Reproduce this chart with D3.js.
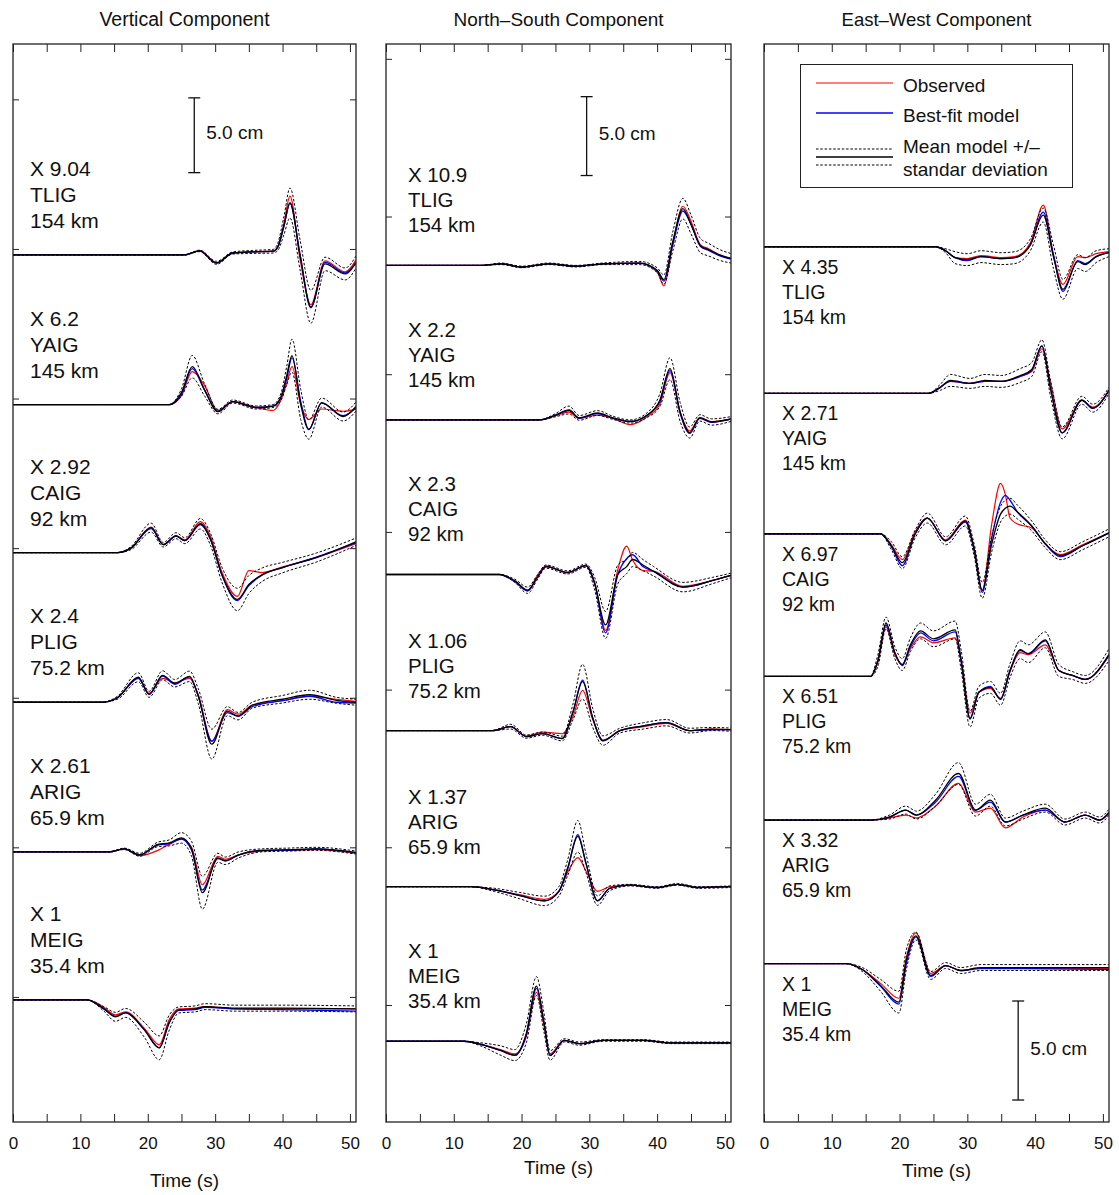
<!DOCTYPE html>
<html lang="en">
<head>
<meta charset="utf-8">
<script src="https://cdn.jsdelivr.net/npm/d3@7"></script>
<style>
body { margin: 0; background: #fff; font-family: "Liberation Sans", Arial, Helvetica, sans-serif; }
.frame { fill: none; stroke: #222; stroke-width: 1.3; }
.axis path { display: none; }
.axis line { stroke: #222; stroke-width: 1; }
.axis text { font-size: 17px; fill: #111; font-family: "Liberation Sans", Arial, sans-serif; }
.trace { fill: none; stroke-linejoin: round; }
.sd { stroke: #000; stroke-width: 1; stroke-dasharray: 2.5,1.8; }
.mean { stroke: #000; stroke-width: 1.3; }
.obs { stroke: #ff0000; stroke-width: 1.2; }
.fit { stroke: #0000ff; stroke-width: 1.3; }
.lbl { fill: #111; }
</style>
</head>
<body>
<svg id="chart" width="1119" height="1195"></svg>
<script>

// ---- data ----
var components = ["Vertical Component", "North\u2013South Component", "East\u2013West Component"];
var stations = ["TLIG", "YAIG", "CAIG", "PLIG", "ARIG", "MEIG"];
var distances = ["154 km", "145 km", "92 km", "75.2 km", "65.9 km", "35.4 km"];
var factorsV = ["9.04", "6.2", "2.92", "2.4", "2.61", "1"];
var factorsN = ["10.9", "2.2", "2.3", "1.06", "1.37", "1"];
var factorsE = ["4.35", "2.71", "6.97", "6.51", "3.32", "1"];

// baseline level of every trace, in cm of the plot
var offsetsV = [59.6, 49.6, 39.7, 29.7, 19.7, 9.8];
var offsetsN = [56.9, 47.1, 37.3, 27.4, 17.5, 7.7];
var offsetsE = [44.2, 36.8, 29.7, 22.5, 15.25, 8.0];

var xTicks = [0, 5, 10, 15, 20, 25, 30, 35, 40, 45, 50];
var yTicksV = [10, 20, 30, 40, 50, 60, 70];
var yTicksN = [10, 20, 30, 40, 50, 60, 70];
var legendItems = ["Observed", "Best-fit model", "Mean model +/\u2013", "standar deviation"];

// rows: [time s, mean, std dev, observed, best-fit]  (cm, up positive)
var vTLIG = [[0,0,0,0,0],[25.4,0,0,0,0],[27.7,0.27,0.05,0.27,0.27],[30.2,-0.53,0.1,-0.55,-0.53],[32.6,0.13,0.07,0.13,0.13],
  [35.5,0.2,0.1,0.22,0.2],[38.6,0.25,0.12,0.25,0.25],[39.3,0.55,0.25,0.5,0.55],[40.2,1.95,0.6,2.1,1.9],[41.1,3.47,1.0,3.93,3.47],
  [42.6,0,1.0,-0.3,0],[44.2,-3.47,1.1,-3.33,-3.53],[46.3,-0.6,0.45,-0.4,-0.5],[49.3,-1.27,0.4,-1.13,-1.2],[50.9,-0.47,0.4,-0.33,-0.55]];
var vYAIG = [[0,0,0,0,0],[23.2,0,0,0,0],[25.0,0.8,0.25,0.6,0.7],[26.6,2.53,0.75,2.2,2.4],[28.4,1.0,0.4,1.3,1.0],
  [30.4,-0.47,0.15,-0.4,-0.47],[32.6,0.2,0.1,0.2,0.2],[36.1,-0.2,0.1,-0.2,-0.2],[38.6,-0.1,0.1,-0.4,-0.1],[39.8,0.55,0.25,0.35,0.5],
  [40.6,1.9,0.6,1.4,1.7],[41.4,3.27,1.1,2.53,3.13],[42.7,0,1.0,0,0.2],[43.9,-1.67,0.65,-1.0,-1.67],[45.8,0.13,0.3,-0.3,0.1],
  [49.0,-0.8,0.3,-0.45,-0.75],[50.9,-0.13,0.3,-0.3,-0.2]];
var vCAIG = [[0,0,0,0,0],[15.5,0,0,0,0],[17.5,0.3,0.1,0.3,0.3],[20.5,1.67,0.3,1.7,1.6],[22.3,0.53,0.15,0.55,0.53],
  [24.2,1.13,0.2,1.1,1.1],[25.5,0.8,0.2,0.85,0.8],[27.8,1.93,0.35,2.07,1.87],[29.3,0.9,0.4,1.1,0.9],[31.0,-1.47,0.5,-1.3,-1.5],
  [33.3,-3.13,0.75,-2.93,-3.2],[35.0,-2.13,0.6,-1.2,-2.2],[37.0,-1.47,0.45,-1.33,-1.5],[40.0,-1.0,0.35,-0.95,-1.0],
  [45.0,-0.33,0.3,-0.33,-0.3],[50.9,0.73,0.25,0.6,0.65]];
var vPLIG = [[0,0,0,0,0],[13.2,0,0,0,0],[15.5,0.3,0.1,0.3,0.3],[18.6,1.67,0.3,1.6,1.6],[20.2,0.53,0.2,0.6,0.53],
  [22.2,1.8,0.3,1.6,1.75],[24.0,1.27,0.25,1.3,1.2],[26.2,1.73,0.35,1.6,1.7],[27.5,0.4,0.5,0.5,0.4],[29.5,-2.8,1.0,-2.6,-2.6],
  [31.8,-0.6,0.3,-0.5,-0.7],[33.4,-0.93,0.25,-0.8,-0.93],[35.5,-0.2,0.2,-0.2,-0.3],[40.0,0.2,0.25,0.1,0.1],
  [44.0,0.5,0.3,0.4,0.4],[48.0,0.13,0.2,0.2,0.0],[50.9,0.0,0.2,0.05,-0.05]];
var vARIG = [[0,0,0,0,0],[14.3,0,0,0,0],[16.5,0.2,0.05,0.2,0.2],[18.8,-0.2,0.1,-0.25,-0.2],[21.5,0.5,0.15,0.1,0.45],
  [23.2,0.6,0.2,0.5,0.55],[25.0,0.93,0.35,0.85,0.85],[26.5,0.2,0.5,0.3,0.1],[28.1,-2.73,1.1,-2.2,-2.55],[30.4,-0.4,0.3,-0.3,-0.45],
  [31.5,-0.6,0.25,-0.5,-0.6],[33.5,-0.2,0.2,-0.2,-0.2],[37,0.1,0.1,0.05,0.1],[41,0.15,0.1,0.1,0.1],[45,0.2,0.1,0.15,0.2],
  [50.9,-0.05,0.1,-0.1,-0.05]];
var vMEIG = [[0,0,0,0,0],[11.0,0,0,0,0],[13.5,-0.6,0.15,-0.5,-0.6],[15.2,-1.13,0.3,-1.0,-1.1],[16.7,-0.87,0.3,-0.8,-0.85],
  [19.5,-2.0,0.5,-1.9,-2.0],[21.7,-3.2,0.8,-3.0,-3.2],[23.2,-1.5,0.5,-1.3,-1.5],[24.6,-0.67,0.2,-0.6,-0.7],
  [27.0,-0.6,0.2,-0.55,-0.65],[28.5,-0.45,0.2,-0.45,-0.5],[33,-0.55,0.2,-0.6,-0.6],[40,-0.55,0.2,-0.6,-0.65],
  [50.9,-0.6,0.2,-0.6,-0.75]];

var nTLIG = [[0,0,0,0,0],[14,0,0,0,0],[17,0.1,0.05,0.1,0.1],[20,-0.1,0.05,-0.1,-0.1],[24,0.1,0.05,0.1,0.1],
  [28,-0.05,0.05,-0.05,-0.05],[32,0.1,0.05,0.1,0.1],[37.4,0.15,0.1,0.15,0.15],[40.0,-0.3,0.15,-0.4,-0.35],
  [41.0,-0.9,0.3,-1.3,-1.0],[42.3,1.5,0.6,1.3,1.3],[43.8,3.6,0.65,3.75,3.45],[45.0,2.6,0.6,2.8,2.6],[46.4,1.25,0.45,1.3,1.2],
  [47.6,1.0,0.4,1.05,0.95],[49.0,0.7,0.35,0.7,0.65],[50.9,0.45,0.3,0.45,0.4]];
var nYAIG = [[0,0,0,0,0],[22.6,0,0,0,0],[25.0,0.3,0.1,0.25,0.3],[27.0,0.63,0.25,0.5,0.6],[28.5,0.13,0.15,0.1,0.1],
  [31.2,0.44,0.15,0.3,0.4],[33.5,0.13,0.1,0.1,0.1],[36.0,-0.1,0.1,-0.3,-0.1],[38.5,0.3,0.15,0.2,0.3],[40.4,1.25,0.4,1.0,1.15],
  [41.9,3.25,0.7,3.0,3.13],[43.4,0.5,0.6,0.5,0.4],[44.8,-0.8,0.35,-0.7,-0.85],[46.3,0.13,0.2,0.15,0.1],
  [48.0,-0.13,0.2,-0.1,-0.15],[50.9,0.06,0.15,0.05,0.05]];
var nCAIG = [[0,0,0,0,0],[16.7,0,0,0,0],[19.0,-0.4,0.1,-0.4,-0.45],[20.9,-1.0,0.2,-1.0,-1.05],[22.3,-0.2,0.15,-0.1,-0.2],
  [23.6,0.5,0.1,0.55,0.5],[26.8,0.13,0.1,0.1,0.13],[29.5,0.56,0.1,0.56,0.56],[30.8,-0.6,0.4,-0.5,-0.6],
  [32.4,-3.2,0.85,-3.55,-3.7],[34.2,0,0.6,0.3,0],[35.5,0.5,0.45,1.8,1.0],[36.4,0.95,0.45,0.9,1.25],[37.9,0.6,0.35,0.25,0.5],
  [39.5,0.2,0.3,0.2,0.2],[43.8,-0.8,0.3,-0.75,-0.8],[48.2,-0.38,0.2,-0.38,-0.38],[50.9,-0.06,0.15,-0.06,-0.06]];
var nPLIG = [[0,0,0,0,0],[15.7,0,0,0,0],[18.4,0.25,0.15,0.25,0.25],[20.7,-0.38,0.1,-0.35,-0.38],[23.1,-0.19,0.1,-0.1,-0.19],
  [26.0,-0.5,0.15,-0.2,-0.5],[27.6,1.2,0.5,0.9,1.2],[29.0,3.1,1.1,2.55,3.2],[30.5,0.8,0.6,0.7,0.8],[32.0,-0.63,0.3,-0.6,-0.65],
  [34.5,0,0.15,0,0],[38.0,0.3,0.2,0.25,0.3],[41.4,0.5,0.2,0.45,0.5],[44.8,0,0.15,0,0],[48,0.1,0.1,0.1,0.05],
  [50.9,0.06,0.1,0.06,0.06]];
var nARIG = [[0,0,0,0,0],[12.5,0,0,0,0],[16.0,-0.2,0.1,-0.2,-0.2],[19.7,-0.56,0.2,-0.5,-0.55],[23.4,-0.9,0.3,-0.8,-0.9],
  [25.5,-0.3,0.3,-0.3,-0.3],[26.8,1.2,0.5,0.9,1.1],[28.3,3.2,1.0,1.85,3.3],[29.5,1.5,0.6,1.0,1.5],[31.2,-0.88,0.3,-0.3,-0.9],
  [33,-0.1,0.15,0,-0.1],[36,0.1,0.05,0.1,0.1],[40,-0.05,0.05,-0.05,-0.05],[43,0.15,0.05,0.15,0.15],[46,-0.05,0.05,-0.05,-0.05],
  [50.9,0,0.05,0,0]];
var nMEIG = [[0,0,0,0,0],[11.5,0,0,0,0],[14.0,-0.2,0.1,-0.2,-0.2],[17.0,-0.6,0.3,-0.55,-0.6],[19.0,-0.88,0.35,-0.8,-0.9],
  [20.7,0.5,0.6,0.3,0.4],[22.2,3.5,0.6,3.1,3.35],[23.3,1.2,0.6,1.0,1.2],[24.2,-0.9,0.3,-0.8,-0.9],[26.3,0.06,0.1,0.06,0.06],
  [28.5,-0.15,0.1,-0.15,-0.15],[32,0.05,0.05,0.05,0.05],[38,0.05,0.05,0.05,0.05],[42,-0.1,0.05,-0.1,-0.1],
  [50.9,-0.1,0.05,-0.1,-0.1]];

var eTLIG = [[0,0,0,0,0],[25.3,0,0,0,0],[26.8,-0.2,0.1,-0.2,-0.2],[28.2,-0.55,0.3,-0.55,-0.55],[30.0,-0.65,0.3,-0.6,-0.7],
  [32.0,-0.5,0.3,-0.45,-0.5],[35.0,-0.6,0.3,-0.55,-0.6],[37.0,-0.55,0.3,-0.5,-0.55],[39.3,0.1,0.3,0.2,0.1],
  [41.2,1.6,0.35,2.1,1.75],[42.7,-0.5,0.6,-0.4,-0.4],[44.1,-2.15,0.5,-1.9,-2.25],[46.3,-0.75,0.35,-0.5,-0.7],
  [47.4,-0.9,0.35,-0.55,-0.85],[49,-0.5,0.3,-0.35,-0.5],[50.9,-0.3,0.2,-0.25,-0.3]];
var eYAIG = [[0,0,0,0,0],[24.3,0,0,0,0],[26.0,0.3,0.15,0.3,0.3],[27.5,0.65,0.3,0.6,0.6],[30.4,0.5,0.25,0.5,0.5],
  [32.6,0.65,0.3,0.6,0.6],[35.0,0.6,0.3,0.6,0.6],[37.8,0.9,0.35,0.85,0.85],[39.5,1.2,0.35,1.1,1.15],[41.0,2.4,0.3,2.25,2.4],
  [42.3,0.2,0.4,0.5,0.2],[44.0,-2.0,0.3,-1.8,-2.0],[46.9,-0.35,0.2,-0.35,-0.35],[48.5,-0.75,0.2,-0.7,-0.75],
  [50.9,0.15,0.15,0.15,0.15]];
var eCAIG = [[0,0,0,0,0],[17.2,0,0,0,0],[18.8,-0.6,0.2,-0.55,-0.65],[20.4,-1.45,0.3,-1.3,-1.6],[22.3,0.0,0.2,0.1,0.0],
  [24.1,0.8,0.25,0.8,0.8],[26.8,-0.35,0.2,-0.3,-0.35],[29.7,0.65,0.25,0.7,0.6],[31.0,-0.8,0.3,-0.7,-0.8],
  [32.2,-2.85,0.4,-2.85,-2.95],[33.6,-0.5,0.4,0.5,-0.2],[34.9,1.0,0.4,2.55,1.6],[35.6,1.3,0.4,2.0,1.95],[36.3,1.4,0.4,0.8,1.7],
  [37.4,1.1,0.35,0.5,1.1],[39.5,0.4,0.25,0.3,0.4],[41.5,-0.5,0.2,-0.5,-0.5],[43.7,-1.1,0.2,-1.05,-1.15],
  [47.0,-0.6,0.2,-0.55,-0.6],[50.9,0.05,0.2,0.05,0.05]];
var ePLIG = [[0,0,0,0,0],[15.7,0,0,0,0],[16.8,0.8,0.3,0.7,0.8],[18.0,2.7,0.3,2.5,2.6],[19.3,1.2,0.3,1.1,1.2],
  [20.4,0.6,0.3,0.6,0.55],[21.6,1.6,0.35,1.4,1.5],[23.1,2.3,0.4,2.0,2.2],[25.0,1.9,0.4,1.7,1.8],[28.2,2.35,0.45,1.95,2.25],
  [29.1,0.8,0.5,0.8,0.7],[30.4,-2.15,0.4,-1.85,-2.1],[31.7,-0.8,0.3,-0.8,-0.8],[33.4,-0.55,0.3,-0.6,-0.5],
  [34.9,-1.15,0.3,-1.1,-1.15],[36.3,0.3,0.35,0.25,0.3],[37.8,1.35,0.45,1.2,1.3],[39.0,1.15,0.45,1.1,1.15],
  [41.5,1.85,0.4,1.6,1.8],[43.5,0.3,0.3,0.3,0.3],[45.5,0.05,0.2,0.05,0.05],[47.4,-0.15,0.2,-0.15,-0.15],
  [50.9,1.1,0.3,1.05,1.1]];
var eARIG = [[0,0,0,0,0],[15.7,0,0,0,0],[18.5,0.15,0.1,0.1,0.15],[20.9,0.5,0.2,0.25,0.5],[22.5,0.25,0.2,0.1,0.25],
  [25.3,1.0,0.3,0.7,0.9],[28.7,2.35,0.55,1.85,2.2],[31.2,0.5,0.3,0.4,0.5],[33.4,1.0,0.3,0.6,0.9],[35.6,-0.1,0.2,-0.4,-0.1],
  [38.2,0.25,0.2,0.15,0.25],[41.5,0.6,0.2,0.5,0.5],[44.4,-0.1,0.15,-0.1,-0.1],[47.4,0.25,0.15,0.25,0.25],
  [49.5,0.0,0.15,0.0,0.0],[50.9,0.4,0.15,0.35,0.35]];
var eMEIG = [[0,0,0,0,0],[12.1,0,0,0,0],[14.5,-0.3,0.1,-0.3,-0.3],[17.2,-1.1,0.3,-1.0,-1.15],[19.9,-1.95,0.55,-1.75,-2.05],
  [21.0,0.2,0.5,0.3,0.0],[22.4,1.4,0.2,1.55,1.35],[24.6,-0.6,0.2,-0.5,-0.65],[26.8,-0.1,0.15,-0.1,-0.1],
  [29.0,-0.35,0.15,-0.35,-0.35],[32,-0.2,0.15,-0.2,-0.25],[40,-0.2,0.15,-0.25,-0.25],[50.9,-0.2,0.15,-0.25,-0.3]];

// ---- layout ----
var frameTop = 44, frameBottom = 1122;
var panels = [
  {title: components[0], left: 13, right: 356, yDomain: [1.64, 73.7], yTicks: yTicksV, offsets: offsetsV, factors: factorsV,
   traces: [vTLIG, vYAIG, vCAIG, vPLIG, vARIG, vMEIG], titleSize: 19.5, labSize: 21, lab: [-79, -53, -27], labDx: 17,
   bar: [26.9, 65.1], timeY: 1187},
  {title: components[1], left: 386, right: 731, yDomain: [2.58, 70.94], yTicks: yTicksN, offsets: offsetsN, factors: factorsN,
   traces: [nTLIG, nYAIG, nCAIG, nPLIG, nARIG, nMEIG], titleSize: 19, labSize: 20.5, lab: [-83, -58, -33], labDx: 22,
   bar: [29.6, 62.6], timeY: 1174},
  {title: components[2], left: 764, right: 1109, yDomain: [0, 54.44], yTicks: [], offsets: offsetsE, factors: factorsE,
   traces: [eTLIG, eYAIG, eCAIG, ePLIG, eARIG, eMEIG], titleSize: 18.5, labSize: 19.5, lab: [27, 52, 77], labDx: 18,
   bar: [37.5, 1.11], timeY: 1177}
];

var svg = d3.select("#chart");

panels.forEach(function(p, pi) {
  var x = d3.scaleLinear().domain([0, 50.9]).range([p.left, p.right]);
  var y = d3.scaleLinear().domain(p.yDomain).range([frameBottom, frameTop]);
  var g = svg.append("g");

  g.append("text")
    .attr("x", (p.left + p.right) / 2).attr("y", 26)
    .attr("text-anchor", "middle").style("font-size", p.titleSize + "px")
    .attr("class", "lbl").text(p.title);

  svg.append("clipPath").attr("id", "clip" + pi)
    .append("rect").attr("x", p.left).attr("y", frameTop)
    .attr("width", p.right - p.left).attr("height", frameBottom - frameTop);

  // ticks on all four sides, pointing inwards
  g.append("g").attr("class", "axis").attr("transform", "translate(0," + frameBottom + ")")
    .call(d3.axisBottom(x).tickValues(xTicks).tickSizeInner(-8).tickSizeOuter(0).tickPadding(15)
      .tickFormat(function(d) { return d % 10 === 0 ? d : ""; }));
  g.append("g").attr("class", "axis").attr("transform", "translate(0," + frameTop + ")")
    .call(d3.axisTop(x).tickValues(xTicks).tickSizeInner(-8).tickSizeOuter(0).tickFormat(""));
  g.append("g").attr("class", "axis").attr("transform", "translate(" + p.left + ",0)")
    .call(d3.axisLeft(y).tickValues(p.yTicks).tickSizeInner(-6).tickSizeOuter(0).tickFormat(""));
  g.append("g").attr("class", "axis").attr("transform", "translate(" + p.right + ",0)")
    .call(d3.axisRight(y).tickValues(p.yTicks).tickSizeInner(-6).tickSizeOuter(0).tickFormat(""));

  g.append("text")
    .attr("x", (p.left + p.right) / 2).attr("y", p.timeY)
    .attr("text-anchor", "middle").style("font-size", "19px")
    .attr("class", "lbl").text("Time (s)");

  var tg = g.append("g").attr("clip-path", "url(#clip" + pi + ")");

  p.traces.forEach(function(tr, si) {
    var off = p.offsets[si];
    function curve(fn) {
      return d3.line()
        .x(function(d) { return x(d[0]); })
        .y(function(d) { return y(off + fn(d)); })
        .curve(d3.curveMonotoneX)(tr);
    }
    tg.append("path").attr("class", "trace obs").attr("d", curve(function(d) { return d[3]; }));
    tg.append("path").attr("class", "trace fit").attr("d", curve(function(d) { return d[4]; }));
    tg.append("path").attr("class", "trace sd").attr("d", curve(function(d) { return d[1] + d[2]; }));
    tg.append("path").attr("class", "trace sd").attr("d", curve(function(d) { return d[1] - d[2]; }));
    tg.append("path").attr("class", "trace mean").attr("d", curve(function(d) { return d[1]; }));

    var lines = ["X " + p.factors[si], stations[si], distances[si]];
    lines.forEach(function(s, li) {
      g.append("text").attr("class", "lbl")
        .attr("x", p.left + p.labDx)
        .attr("y", y(off) + p.lab[li])
        .style("font-size", p.labSize + "px")
        .text(s);
    });
  });

  // 5.0 cm scale bar
  var bx = x(p.bar[0]), b0 = y(p.bar[1]), b1 = y(p.bar[1] + 5);
  g.append("line").attr("x1", bx).attr("x2", bx).attr("y1", b0).attr("y2", b1).attr("stroke", "#111").attr("stroke-width", 1.3);
  [b0, b1].forEach(function(v) {
    g.append("line").attr("x1", bx - 6).attr("x2", bx + 6).attr("y1", v).attr("y2", v).attr("stroke", "#111").attr("stroke-width", 1.3);
  });
  g.append("text").attr("class", "lbl").attr("x", bx + 12).attr("y", (b0 + b1) / 2 + 4)
    .style("font-size", "19px").text("5.0 cm");

  g.append("rect").attr("class", "frame")
    .attr("x", p.left).attr("y", frameTop)
    .attr("width", p.right - p.left).attr("height", frameBottom - frameTop);
});

// legend in the East-West panel
var lg = svg.append("g");
lg.append("rect").attr("x", 800.5).attr("y", 64.5).attr("width", 272).attr("height", 123)
  .attr("fill", "#fff").attr("stroke", "#222").attr("stroke-width", 1);
var legY = [83, 113, 157];
lg.append("line").attr("class", "trace obs").attr("x1", 816).attr("x2", 893).attr("y1", legY[0]).attr("y2", legY[0]);
lg.append("line").attr("class", "trace fit").attr("x1", 816).attr("x2", 893).attr("y1", legY[1]).attr("y2", legY[1]);
lg.append("line").attr("class", "trace sd").attr("x1", 816).attr("x2", 893).attr("y1", legY[2] - 8).attr("y2", legY[2] - 8);
lg.append("line").attr("class", "trace mean").attr("x1", 816).attr("x2", 893).attr("y1", legY[2]).attr("y2", legY[2]);
lg.append("line").attr("class", "trace sd").attr("x1", 816).attr("x2", 893).attr("y1", legY[2] + 8).attr("y2", legY[2] + 8);
var legTextY = [92, 122, 153, 176];
legendItems.forEach(function(s, i) {
  lg.append("text").attr("class", "lbl").attr("x", 903).attr("y", legTextY[i])
    .style("font-size", "19px").text(s);
});

</script>
</body>
</html>
